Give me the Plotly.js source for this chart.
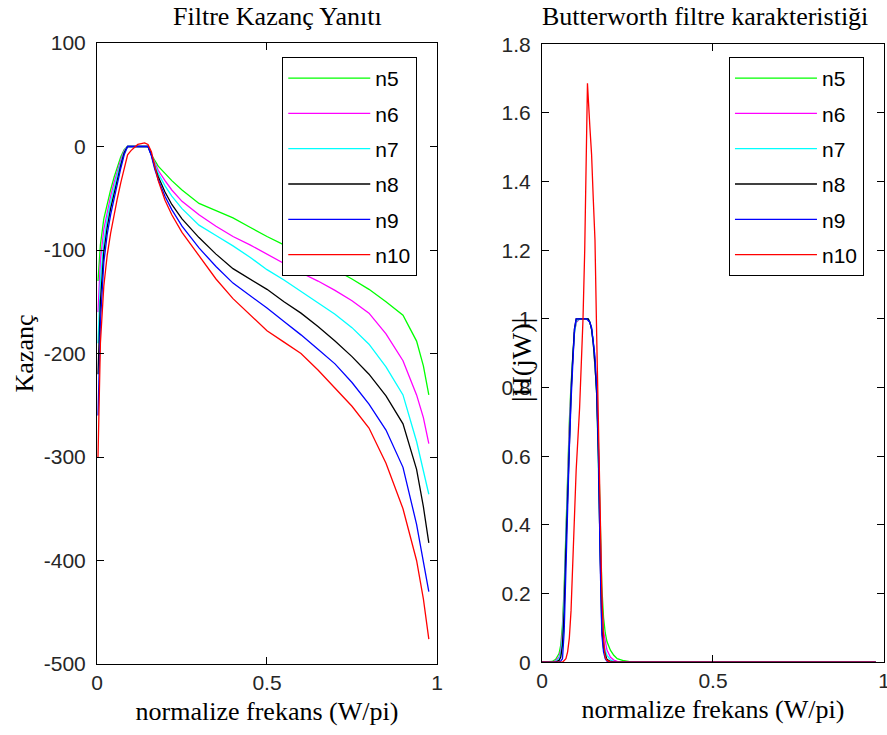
<!DOCTYPE html>
<html>
<head>
<meta charset="utf-8">
<script src="https://cdn.plot.ly/plotly-3.0.1.min.js"></script>
<style>html,body{margin:0;padding:0;background:#fff}#chart{width:887px;height:735px}</style>
</head>
<body>
<div id="chart"></div>
<script>
// ---------- Data ----------
const seriesNames = ['n5', 'n6', 'n7', 'n8', 'n9', 'n10'];
const seriesColors = ['#00ff00', '#ff00ff', '#00ffff', '#000000', '#0000ff', '#ff0000'];

// Left: gain (dB) vs normalized frequency
const xGain   = [0.003, 0.01, 0.02, 0.03, 0.04, 0.05, 0.06, 0.07, 0.08, 0.09, 0.1, 0.12, 0.14, 0.15, 0.16, 0.17, 0.18, 0.2, 0.22, 0.25, 0.3, 0.35, 0.4, 0.45, 0.5, 0.55, 0.6, 0.65, 0.7, 0.75, 0.8, 0.85, 0.9, 0.94, 0.96, 0.976];
const gainN5  = [-130, -95, -70, -55, -42, -30, -20, -10, -3, 0, 0, 0, 0, 0, -8, -14, -19, -26, -33, -42, -55, -62, -69, -78, -87, -95, -103, -111, -119, -128, -138, -150, -163, -188, -212, -240];
const gainN6  = [-160, -110, -80, -62, -48, -35, -23, -13, -4, 0, 0, 0, 0, 0, -8, -16, -23, -33, -42, -53, -66, -77, -87, -95, -104, -113, -122, -130, -139, -149, -161, -181, -207, -240, -262, -287];
const gainN7  = [-190, -130, -92, -70, -54, -40, -27, -16, -5, 0, 0, 0, 0, 0, -8, -18, -26, -38, -48, -60, -76, -86, -96, -107, -119, -129, -140, -151, -162, -175, -191, -213, -240, -285, -312, -336];
const gainN8  = [-220, -150, -102, -78, -60, -45, -31, -18, -6, 0, 0, 0, 0, 0, -8, -20, -29, -44, -56, -70, -88, -104, -118, -128, -138, -150, -161, -174, -188, -203, -220, -241, -268, -312, -348, -383];
const gainN9  = [-260, -170, -112, -85, -66, -50, -35, -21, -8, 0, 0, 0, 0, 0, -9, -22, -32, -48, -61, -77, -98, -116, -132, -144, -156, -169, -182, -196, -210, -228, -249, -274, -310, -365, -400, -430];
const gainN10 = [-300, -190, -135, -105, -84, -66, -50, -35, -20, -8, -4, 2, 3.4, 2, -5, -20, -33, -52, -66, -83, -106, -128, -147, -163, -178, -189, -200, -216, -233, -251, -272, -306, -350, -400, -437, -476];

// Right: |H(jW)| vs normalized frequency
const xMag  = [0, 0.03, 0.04, 0.05, 0.055, 0.06, 0.065, 0.07, 0.075, 0.08, 0.085, 0.09, 0.095, 0.1, 0.11, 0.12, 0.13, 0.135, 0.14, 0.145, 0.15, 0.155, 0.16, 0.165, 0.17, 0.175, 0.18, 0.185, 0.19, 0.2, 0.21, 0.22, 0.24, 0.26, 0.3, 0.5, 0.7, 0.9, 0.976];
const magN5 = [0, 0.002, 0.008, 0.025, 0.05, 0.11, 0.22, 0.4, 0.56, 0.7, 0.81, 0.9, 0.96, 0.99, 1.0, 1.0, 1.0, 1.0, 0.99, 0.97, 0.93, 0.87, 0.79, 0.64, 0.4, 0.22, 0.13, 0.085, 0.06, 0.035, 0.02, 0.01, 0.004, 0.001, 0, 0, 0, 0, 0];
const magN6 = [0, 0, 0.004, 0.015, 0.035, 0.09, 0.2, 0.38, 0.54, 0.68, 0.8, 0.89, 0.96, 0.99, 1.0, 1.0, 1.0, 1.0, 0.99, 0.97, 0.93, 0.87, 0.79, 0.62, 0.37, 0.17, 0.09, 0.055, 0.035, 0.015, 0.006, 0.002, 0, 0, 0, 0, 0, 0, 0];
const magN7 = [0, 0, 0.002, 0.01, 0.025, 0.07, 0.18, 0.36, 0.52, 0.67, 0.79, 0.89, 0.96, 0.995, 1.0, 1.0, 1.0, 1.0, 0.99, 0.97, 0.93, 0.87, 0.78, 0.6, 0.34, 0.13, 0.06, 0.035, 0.02, 0.007, 0.002, 0, 0, 0, 0, 0, 0, 0, 0];
const magN8 = [0, 0, 0, 0.005, 0.015, 0.05, 0.15, 0.33, 0.5, 0.65, 0.78, 0.89, 0.97, 1.0, 1.0, 1.0, 1.0, 1.0, 0.99, 0.97, 0.93, 0.87, 0.78, 0.6, 0.32, 0.1, 0.04, 0.02, 0.008, 0.002, 0, 0, 0, 0, 0, 0, 0, 0, 0];
const magN9 = [0, 0, 0, 0, 0.003, 0.01, 0.09, 0.28, 0.46, 0.62, 0.76, 0.88, 0.97, 1.0, 1.0, 1.0, 1.0, 0.995, 0.99, 0.975, 0.94, 0.89, 0.8, 0.62, 0.3, 0.08, 0.03, 0.01, 0.003, 0, 0, 0, 0, 0, 0, 0, 0, 0, 0];
const xMagN10 = [0, 0.06, 0.065, 0.07, 0.075, 0.08, 0.085, 0.09, 0.095, 0.1, 0.11, 0.12, 0.125, 0.13, 0.133, 0.14, 0.145, 0.15, 0.155, 0.16, 0.165, 0.17, 0.175, 0.18, 0.185, 0.19, 0.2, 0.5, 0.976];
const magN10  = [0, 0, 0.005, 0.01, 0.03, 0.07, 0.15, 0.3, 0.45, 0.56, 0.74, 1.0, 1.2, 1.45, 1.686, 1.56, 1.48, 1.35, 1.23, 0.95, 0.72, 0.42, 0.2, 0.07, 0.015, 0.005, 0, 0, 0];

const gainTickVals = [100, 0, -100, -200, -300, -400, -500];
const gainTickText = ['100', '0', '-100', '-200', '-300', '-400', '-500'];
const freqTickVals = [0, 0.5, 1];
const freqTickText = ['0', '0.5', '1'];
const magTickVals = [0, 0.2, 0.4, 0.6, 0.8, 1, 1.2, 1.4, 1.6, 1.8];
const magTickText = ['0', '0.2', '0.4', '0.6', '0.8', '1', '1.2', '1.4', '1.6', '1.8'];

const leftTitle = 'Filtre Kazanç Yanıtı';
const rightTitle = 'Butterworth filtre karakteristiği';
const xTitle = 'normalize frekans (W/pi)';
const yLeftTitle = 'Kazanç';
const yRightTitle = '|H(jW)|';

// ---------- Build ----------
const gains = [gainN5, gainN6, gainN7, gainN8, gainN9, gainN10];
const mags = [magN5, magN6, magN7, magN8, magN9, magN10];
const traces = [];
seriesNames.forEach((nm, i) => {
  traces.push({
    x: xGain, y: gains[i], type: 'scatter', mode: 'lines', name: nm,
    line: {color: seriesColors[i], width: 1.3},
    xaxis: 'x', yaxis: 'y', legend: 'legend', legendgroup: 'L' + nm
  });
});
seriesNames.forEach((nm, i) => {
  traces.push({
    x: i === 5 ? xMagN10 : xMag, y: mags[i], type: 'scatter', mode: 'lines', name: nm,
    line: {color: seriesColors[i], width: 1.3},
    xaxis: 'x2', yaxis: 'y2', legend: 'legend2', legendgroup: 'R' + nm
  });
});

const tickFont = {family: 'Liberation Sans, Arial, sans-serif', size: 21, color: '#262626'};
const titleFont = {family: 'Liberation Serif, Times New Roman, serif', size: 26, color: '#000'};
const axBase = {
  showline: true, linecolor: '#000', linewidth: 1, mirror: 'ticks',
  ticks: 'inside', ticklen: 7, tickcolor: '#000', tickwidth: 1,
  showgrid: false, zeroline: false, tickfont: tickFont, tickmode: 'array', fixedrange: true,
  ticklabeloverflow: 'allow'
};
const legBase = {
  xanchor: 'left', yanchor: 'top', bgcolor: '#fff', bordercolor: '#000', borderwidth: 1,
  font: {family: 'Liberation Sans, Arial, sans-serif', size: 21, color: '#000'},
  traceorder: 'grouped', tracegroupgap: 5, itemwidth: 82
};

const layout = {
  width: 887, height: 735,
  margin: {l: 97, r: 3, t: 43, b: 71, pad: 0},
  paper_bgcolor: '#fff', plot_bgcolor: '#fff',
  showlegend: true,
  xaxis: Object.assign({}, axBase, {domain: [0, 0.432], range: [0, 1], tickvals: freqTickVals, ticktext: freqTickText,
    title: {text: xTitle, font: titleFont, standoff: 8}}),
  yaxis: Object.assign({}, axBase, {domain: [0, 1], range: [-500, 100], tickvals: gainTickVals, ticktext: gainTickText,
    ticklabelstandoff: 6, title: {text: yLeftTitle, font: titleFont, standoff: 2}}),
  xaxis2: Object.assign({}, axBase, {domain: [0.5654, 1], range: [0, 1], tickvals: freqTickVals, ticktext: freqTickText,
    anchor: 'y2', title: {text: xTitle, font: titleFont, standoff: 8}}),
  yaxis2: Object.assign({}, axBase, {domain: [0.003, 0.998], range: [0, 1.8], tickvals: magTickVals, ticktext: magTickText,
    anchor: 'x2', ticklabelstandoff: 6}),
  legend: Object.assign({}, legBase, {x: 0.2354, y: 0.9775}),
  legend2: Object.assign({}, legBase, {x: 0.803, y: 0.9775}),
  annotations: [
    {text: leftTitle, xref: 'paper', yref: 'paper', x: 0.2294, y: 1, xanchor: 'center', yanchor: 'bottom', yshift: 10, showarrow: false, font: titleFont},
    {text: rightTitle, xref: 'paper', yref: 'paper', x: 0.7726, y: 1, xanchor: 'center', yanchor: 'bottom', yshift: 10, showarrow: false, font: titleFont},
    {text: yRightTitle, xref: 'paper', yref: 'paper', x: 0.5388, y: 0.4895, xanchor: 'center', yanchor: 'middle', textangle: -90, showarrow: false,
     font: {family: 'Liberation Serif, Times New Roman, serif', size: 28, color: '#000'}}
  ]
};

Plotly.newPlot('chart', traces, layout, {staticPlot: true, displayModeBar: false});
</script>
</body>
</html>
